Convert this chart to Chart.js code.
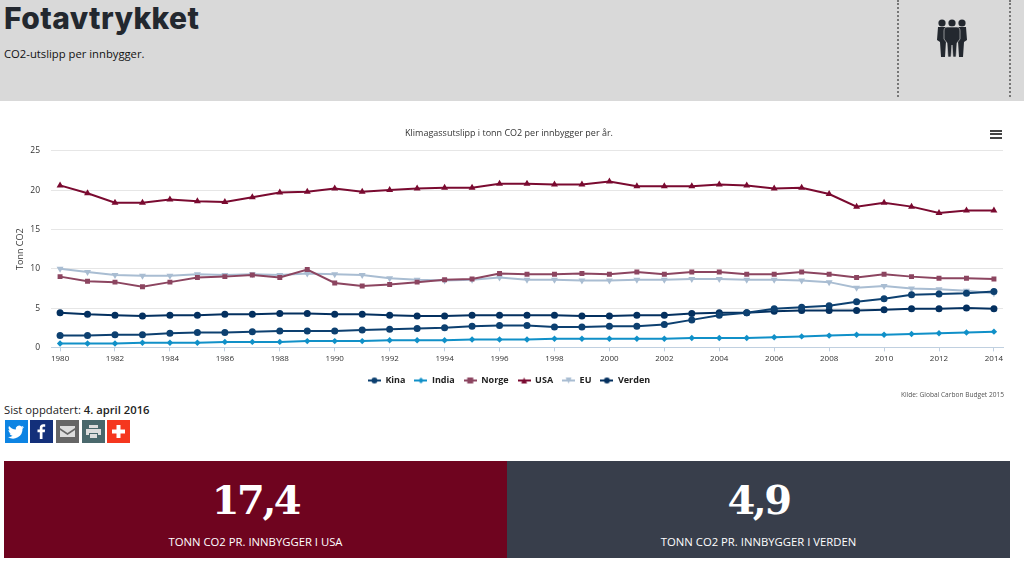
<!DOCTYPE html>
<html lang="no">
<head>
<meta charset="UTF-8">
<title>Fotavtrykket</title>
<script src="https://cdn.jsdelivr.net/npm/chart.js"></script>
<style>
    html, body { margin: 0; padding: 0; background: #fff; }
    body { width: 1024px; height: 578px; position: relative; overflow: hidden; font-family: "Open Sans", sans-serif; color: #23282f; }
    .header { position: absolute; left: 0; top: 0; width: 1024px; height: 101px; background: #d9d9d9; }
    .header h1 { position: absolute; left: 4px; top: 0; margin: 0; font: 800 30px/36px Inter, sans-serif; letter-spacing: 0.4px; color: #23282f; }
    .header p { position: absolute; left: 4px; top: 46px; margin: 0; font-size: 11.25px; line-height: 16px; color: #111; }
    .dots { position: absolute; top: 0; height: 97px; border-left: 2px dotted #777; }
    .people { position: absolute; left: 936px; top: 18px; }
    #wrap { position: absolute; left: 0; top: 120px; width: 1024px; height: 280px; }
    .menu { position: absolute; left: 990px; top: 130px; width: 12px; height: 9px; background: linear-gradient(#444 0 2px, #fff 2px 3.5px, #444 3.5px 5.5px, #fff 5.5px 7px, #444 7px 9px); }
    .source { position: absolute; right: 20px; top: 391px; font-size: 6.6px; line-height: 8px; color: #555; }
    .updated { position: absolute; left: 4px; top: 402px; font-size: 11.25px; line-height: 16px; color: #222; }
    .updated b { font-weight: 600; }
    .share { position: absolute; top: 420px; width: 23px; height: 23px; }
    .tile { position: absolute; top: 461px; height: 97px; width: 503px; color: #fff; text-align: center; }
    .tile .num { position: absolute; left: 0; right: 0; top: 11px; font: bold 40px/56px "DejaVu Serif", serif; letter-spacing: -2.5px; }
    .tile .lbl { position: absolute; left: 0; right: 0; top: 73px; font-size: 11.3px; line-height: 16px; }
</style>
</head>
<body>
<div class="header">
    <h1>Fotavtrykket</h1>
    <p>CO2-utslipp per innbygger.</p>
    <div class="dots" style="left:897px"></div>
    <div class="dots" style="left:1009px"></div>
    <svg class="people" width="32" height="40" viewBox="0 0 32 40" fill="#23282f">
        <circle cx="6" cy="5" r="3.6"/><circle cx="16" cy="5" r="3.6"/><circle cx="26" cy="5" r="3.6"/>
        <path d="M2 9h8l2 8-2 6-1 16H5L4 24l-3-2z"/>
        <path d="M22 9h8l1 13-3 2-1 15h-4l-1-16-2-6z"/>
        <path d="M11 9h10c2 0 3 2 3 4v8l-3 4-1 14h-3l-1-12-1 12h-3l-1-14-3-4v-8c0-2 1-4 3-4z" stroke="#d9d9d9" stroke-width=".6"/>
    </svg>
</div>

<div id="wrap"><canvas id="chart" width="1024" height="280"></canvas></div>
<div class="menu"></div>
<div class="source">Kilde: Global Carbon Budget 2015</div>

<div class="updated">Sist oppdatert: <b>4. april 2016</b></div>
<svg class="share" style="left:5px" viewBox="0 0 23 23"><rect width="23" height="23" fill="#0d84e3"/><path fill="#fff" d="M19 7c-.6.3-1.200.4-1.900.5.700-.4 1.200-1 1.400-1.800-.6.400-1.300.6-2.100.8a3.300 3.300 0 0 0-5.600 3C8 9.300 5.600 8 4 6c-.9 1.500-.4 3.400 1 4.400-.5 0-1-.2-1.500-.4 0 1.600 1.100 3 2.600 3.300-.5.100-1 .2-1.500.1.400 1.300 1.600 2.200 3 2.300A6.700 6.700 0 0 1 3 17a9.400 9.400 0 0 0 14.500-8.300c.6-.4 1.100-1 1.500-1.700z"/></svg>
<svg class="share" style="left:30px" viewBox="0 0 23 23"><rect width="23" height="23" fill="#13307a"/><path fill="#fff" d="M12.500 19v-6.800h2.300l.3-2.700h-2.600V8c0-.8.200-1.300 1.300-1.300h1.400V4.300c-.3 0-1.100-.1-2-.1-2 0-3.400 1.200-3.400 3.500v1.800H7.500v2.700h2.300V19z"/></svg>
<svg class="share" style="left:56px" viewBox="0 0 23 23"><rect width="23" height="23" fill="#666"/><path fill="#ddd" d="M4 6h15v2l-7.500 5L4 8z"/><path fill="#ddd" d="M4 10l7.500 5 7.500-5v7H4z"/></svg>
<svg class="share" style="left:82px" viewBox="0 0 23 23"><rect width="23" height="23" fill="#4a686c"/><path fill="#ddd" d="M7 5h9v3H7zM4 9h15v6h-3v-2H7v2H4zM8 14h7v4H8z"/></svg>
<svg class="share" style="left:107px" viewBox="0 0 23 23"><rect width="23" height="23" fill="#f5371f"/><path fill="#fff" d="M9.500 5h4v4.500H18v4h-4.500V18h-4v-4.500H5v-4h4.500z"/></svg>

<div class="tile" style="left:4px;background:#6f041f">
    <div class="num">17,4</div>
    <div class="lbl">TONN CO2 PR. INNBYGGER I USA</div>
</div>
<div class="tile" style="left:507px;background:#383e4b">
    <div class="num">4,9</div>
    <div class="lbl">TONN CO2 PR. INNBYGGER I VERDEN</div>
</div>

<script>
const years = [1980,1981,1982,1983,1984,1985,1986,1987,1988,1989,1990,1991,1992,1993,1994,1995,1996,1997,1998,1999,2000,2001,2002,2003,2004,2005,2006,2007,2008,2009,2010,2011,2012,2013,2014];
const kina = [1.5,1.5,1.6,1.6,1.8,1.9,1.9,2.0,2.1,2.1,2.1,2.2,2.3,2.4,2.5,2.7,2.8,2.8,2.6,2.6,2.7,2.7,2.9,3.5,4.1,4.4,4.9,5.1,5.3,5.8,6.2,6.7,6.8,6.9,7.1];
const india = [0.5,0.5,0.5,0.6,0.6,0.6,0.7,0.7,0.7,0.8,0.8,0.8,0.9,0.9,0.9,1.0,1.0,1.0,1.1,1.1,1.1,1.1,1.1,1.2,1.2,1.2,1.3,1.4,1.5,1.6,1.6,1.7,1.8,1.9,2.0];
const norge = [9.0,8.4,8.3,7.7,8.3,8.9,9.0,9.2,8.9,9.9,8.2,7.8,8.0,8.3,8.6,8.7,9.4,9.3,9.3,9.4,9.3,9.6,9.3,9.6,9.6,9.3,9.3,9.6,9.3,8.9,9.3,9.0,8.8,8.8,8.7];
const usa = [20.6,19.6,18.4,18.4,18.8,18.6,18.5,19.1,19.7,19.8,20.2,19.8,20.0,20.2,20.3,20.3,20.8,20.8,20.7,20.7,21.1,20.5,20.5,20.5,20.7,20.6,20.2,20.3,19.5,17.9,18.4,17.9,17.1,17.4,17.4];
const eu = [10.0,9.6,9.2,9.1,9.1,9.3,9.2,9.3,9.2,9.4,9.3,9.2,8.8,8.6,8.5,8.6,8.9,8.6,8.6,8.5,8.5,8.6,8.6,8.7,8.7,8.6,8.6,8.5,8.3,7.6,7.8,7.5,7.4,7.2,6.9];
const verden = [4.4,4.2,4.1,4.0,4.1,4.1,4.2,4.2,4.3,4.3,4.2,4.2,4.1,4.0,4.0,4.1,4.1,4.1,4.1,4.0,4.0,4.1,4.1,4.3,4.4,4.4,4.6,4.7,4.7,4.7,4.8,4.9,4.9,5.0,4.9];
const yearTicks = [1980,1982,1984,1986,1988,1990,1992,1994,1996,1998,2000,2002,2004,2006,2008,2010,2012,2014];

function makeSeries(label, values, color, pointStyle, radius, rotation) {
    return {
        label: label,
        data: values.map((v, i) => ({ x: years[i], y: v })),
        borderColor: color,
        backgroundColor: color,
        borderWidth: 2,
        pointStyle: pointStyle,
        pointRadius: radius,
        pointRotation: rotation || 0,
        pointBorderWidth: 0,
        tension: 0
    };
}

// line with the marker on top, the way the legend symbols look in the original
function legendIcon(ds) {
    const c = document.createElement('canvas');
    c.width = 13;
    c.height = 8;
    const g = c.getContext('2d');
    g.strokeStyle = ds.borderColor;
    g.fillStyle = ds.borderColor;
    g.lineWidth = 2;
    g.beginPath();
    g.moveTo(0, 4);
    g.lineTo(13, 4);
    g.stroke();
    g.beginPath();
    if (ds.pointStyle === 'rect') g.rect(3.5, 1, 6, 6);
    else if (ds.pointStyle === 'rectRot') { g.moveTo(6.5, 1); g.lineTo(9.5, 4); g.lineTo(6.5, 7); g.lineTo(3.5, 4); }
    else if (ds.pointStyle === 'triangle' && ds.pointRotation) { g.moveTo(6.5, 7); g.lineTo(9.5, 1); g.lineTo(3.5, 1); }
    else if (ds.pointStyle === 'triangle') { g.moveTo(6.5, 1); g.lineTo(9.5, 7); g.lineTo(3.5, 7); }
    else g.arc(6.5, 4, 3, 0, Math.PI * 2);
    g.fill();
    return c;
}

new Chart(document.getElementById('chart'), {
    type: 'line',
    data: {
        datasets: [
            makeSeries('Kina', kina, '#0d4070', 'circle', 3.5),
            makeSeries('India', india, '#1090c8', 'rectRot', 3.2),
            makeSeries('Norge', norge, '#8c4560', 'rect', 3.5),
            makeSeries('USA', usa, '#7a0a30', 'triangle', 4),
            makeSeries('EU', eu, '#a9bdd2', 'triangle', 4, 180),
            makeSeries('Verden', verden, '#04305f', 'circle', 3.5)
        ]
    },
    options: {
        responsive: false,
        animation: false,
        layout: { padding: { left: 15, right: 21, top: 6, bottom: 5 } },
        plugins: {
            tooltip: { enabled: false },
            title: {
                display: true,
                text: 'Klimagassutslipp i tonn CO2 per innbygger per år.',
                color: '#333',
                font: { family: 'Open Sans', size: 9, weight: 'normal' },
                padding: { top: 2, bottom: 12 }
            },
            legend: {
                position: 'bottom',
                labels: {
                    usePointStyle: true,
                    pointStyleWidth: 13,
                    color: '#222',
                    font: { family: 'Open Sans', size: 9, weight: 'bold' },
                    padding: 9,
                    generateLabels: chart => chart.data.datasets.map((ds, i) => ({
                        text: ds.label,
                        datasetIndex: i,
                        pointStyle: legendIcon(ds),
                        fontColor: '#222',
                        lineWidth: 0
                    }))
                }
            }
        },
        scales: {
            x: {
                type: 'linear',
                min: 1979.67,
                max: 2014.33,
                afterBuildTicks: axis => { axis.ticks = yearTicks.map(v => ({ value: v })); },
                grid: { drawOnChartArea: false, color: '#c0d0e0', tickLength: 4 },
                border: { color: '#c0d0e0' },
                ticks: {
                    color: '#333',
                    font: { family: 'Open Sans', size: 8 },
                    maxRotation: 0,
                    autoSkip: false,
                    callback: v => String(v)
                }
            },
            y: {
                min: 0,
                max: 25,
                afterFit: axis => { axis.width = 36; },
                grid: { color: '#e6e6e6', drawTicks: false },
                border: { display: false },
                ticks: {
                    stepSize: 5,
                    color: '#333',
                    padding: 11,
                    font: { family: 'Open Sans', size: 8.5 }
                },
                title: {
                    display: true,
                    text: 'Tonn CO2',
                    color: '#333',
                    font: { family: 'Open Sans', size: 9 },
                    padding: { top: 0, bottom: 4 }
                }
            }
        }
    }
});
</script>
</body>
</html>
